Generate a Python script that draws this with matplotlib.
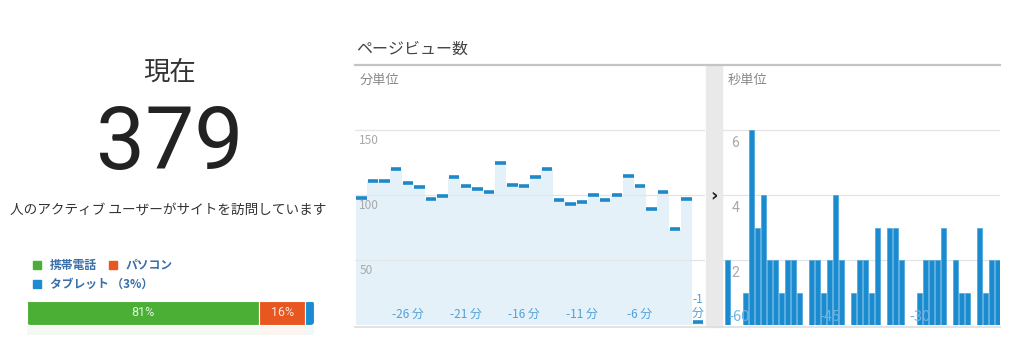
import numpy as np
import matplotlib
matplotlib.use("Agg")
import matplotlib.pyplot as plt
from matplotlib.patches import Rectangle, FancyBboxPatch
from matplotlib.lines import Line2D

plt.rcParams['font.family'] = ['Noto Sans CJK JP', 'DejaVu Sans']

# --- data ---
active_users = 379
device_names = ['携帯電話', 'パソコン', 'タブレット']
device_share = [81, 16, 3]
device_colors = ['#4caf35', '#e8571f', '#1c8bd3']

minutes = np.arange(-30, 0)
minute_views = [98, 111, 111, 120, 109, 106, 97, 99, 114, 107, 105, 102, 125, 108, 107,
                114, 120, 96, 93, 95, 100, 96, 100, 115, 107, 89, 102, 74, 97, 2]
minute_ticks = [-26, -21, -16, -11, -6]

seconds = np.arange(-60, -14)
second_views = [2, 0, 0, 1, 6, 3, 4, 2, 2, 1, 2, 2, 1, 0, 2, 2, 1, 2, 4, 2, 0, 1, 2,
                2, 1, 3, 0, 3, 3, 2, 0, 0, 1, 2, 2, 2, 3, 0, 2, 1, 1, 0, 3, 1, 2, 2]
second_ticks = [-60, -45, -30]

W, H = 1024, 360
fig = plt.figure(figsize=(W / 100, H / 100), dpi=100)
fig.patch.set_facecolor('white')


def box(x0, y0, x1, y1):
    return [x0 / W, 1 - y1 / H, (x1 - x0) / W, (y1 - y0) / H]


def fx(x):
    return x / W


def fy(y):
    return 1 - y / H


# --- left panel ---
fig.text(fx(170), fy(72), '現在', ha='center', va='center', fontsize=19, color='#333333')
fig.text(fx(170), fy(145), str(active_users), ha='center', va='center', fontsize=63,
         color='#222222', family=['Roboto', 'DejaVu Sans'])
fig.text(fx(168), fy(210), '人のアクティブ ユーザーがサイトを訪問しています', ha='center',
         va='center', fontsize=9.8, color='#333333')

leg_pos = [(33, 265), (109, 265), (33, 284)]
for (lx, ly), name, col, sh in zip(leg_pos, device_names, device_colors, device_share):
    fig.patches.append(Rectangle((fx(lx), fy(ly + 4)), 8 / W, 8 / H, transform=fig.transFigure,
                                 color=col))
    label = name if sh > 10 else name + ' （%d%%）' % sh
    fig.text(fx(lx + 17), fy(ly), label, ha='left', va='center', fontsize=8.5,
             fontweight='bold', color='#3a6ea8')

axd = fig.add_axes(box(27, 301, 314, 325))
left = np.concatenate([[0], np.cumsum(device_share)[:-1]])
bars = axd.barh(0.5, device_share, left=left, height=1, color=device_colors,
                edgecolor='white', linewidth=0.8)
clip = FancyBboxPatch((0, 0), 1, 1, boxstyle='round,pad=0,rounding_size=0.011',
                      mutation_aspect=11.9, transform=axd.transAxes, facecolor='none',
                      edgecolor='none')
axd.add_patch(clip)
for b in bars:
    b.set_clip_path(clip)
for l, sh in zip(left, device_share):
    if sh > 10:
        axd.text(l + sh / 2, 0.5, '%d%%' % sh, ha='center', va='center', fontsize=9,
                 color='white', alpha=0.85, family=['Roboto', 'DejaVu Sans'])
axd.set_xlim(0, 100)
axd.set_ylim(0, 1)
axd.axis('off')

# faint reflection under the bar
axr = fig.add_axes(box(27, 326, 314, 335))
axr.barh(0.5, device_share, left=left, height=1, color=device_colors, alpha=0.06)
axr.set_xlim(0, 100)
axr.set_ylim(0, 1)
axr.axis('off')

# --- right panel frame ---
fig.text(fx(356), fy(49), 'ページビュー数', ha='left', va='center', fontsize=11.5,
         color='#444444')
fig.lines.append(Line2D([fx(355), fx(1000)], [fy(64.5), fy(64.5)], transform=fig.transFigure,
                        color='#c4c4c4', lw=1.6))
fig.lines.append(Line2D([fx(355), fx(1000)], [fy(326.5), fy(326.5)], transform=fig.transFigure,
                        color='#dddddd', lw=1.2))
fig.patches.append(Rectangle((fx(706), fy(327)), 16 / W, 261 / H, transform=fig.transFigure,
                             color='#e9e9e9', zorder=0))
fig.text(fx(714), fy(196), '›', ha='center', va='center', fontsize=13, fontweight='bold',
         color='#222222', family=['DejaVu Sans'])

grid_col = '#e4e4e4'
lab_col = '#a8a8a8'
blue = '#1f88c9'
tick_blue = '#4f9fd8'

# --- minute chart ---
axm = fig.add_axes(box(355, 65, 705, 325))
axm.bar(minutes, minute_views, width=1.0, color='#e5f1f9', zorder=1)
axm.hlines(minute_views, minutes - 0.45, minutes + 0.45, color=blue, lw=2.6, zorder=3)
for v in [50, 100, 150]:
    axm.axhline(v, color=grid_col, lw=0.9, zorder=2)
    axm.annotate(str(v), xy=(0.012, v), xycoords=('axes fraction', 'data'), xytext=(0, -3),
                 textcoords='offset points', ha='left', va='top', fontsize=8.5, color=lab_col,
                 zorder=4)
for t in minute_ticks:
    axm.text(t, 0.042, '%d 分' % t, transform=axm.get_xaxis_transform(), ha='center',
             va='center', fontsize=8.5, color=tick_blue, zorder=4)
axm.text(-1, 0.07, '-1\n分', transform=axm.get_xaxis_transform(), ha='center', va='center',
         fontsize=8.5, color=tick_blue, linespacing=1.1, zorder=4)
axm.text(0.014, 0.94, '分単位', transform=axm.transAxes, ha='left', va='center', fontsize=9.5,
         color='#888888')
axm.set_xlim(-30.55, -0.4)
axm.set_ylim(0, 200)
axm.axis('off')

# --- second chart ---
axs = fig.add_axes(box(723, 65, 1000, 325))
for v in [2, 4, 6]:
    axs.axhline(v, color=grid_col, lw=0.9, zorder=1)
    axs.annotate(str(v), xy=(0.03, v), xycoords=('axes fraction', 'data'), xytext=(0, -4),
                 textcoords='offset points', ha='left', va='top', fontsize=10, color=lab_col,
                 zorder=1, family=['Roboto', 'DejaVu Sans'])
axs.bar(seconds, second_views, width=0.82, color='#1b8bd0', edgecolor='#4aa3dc',
        linewidth=0.5, zorder=2)
for t in second_ticks:
    axs.text(t + 2, 0.45, '%d\n秒' % t, ha='center', va='top', fontsize=10.5,
             color='#6fb3e3', clip_on=True, zorder=3, linespacing=1.2)
axs.text(0.018, 0.94, '秒単位', transform=axs.transAxes, ha='left', va='center', fontsize=9.5,
         color='#888888')
axs.set_xlim(-60.75, -14.6)
axs.set_ylim(0, 8)
axs.axis('off')

fig.savefig('out.png', dpi=100, facecolor='white')
